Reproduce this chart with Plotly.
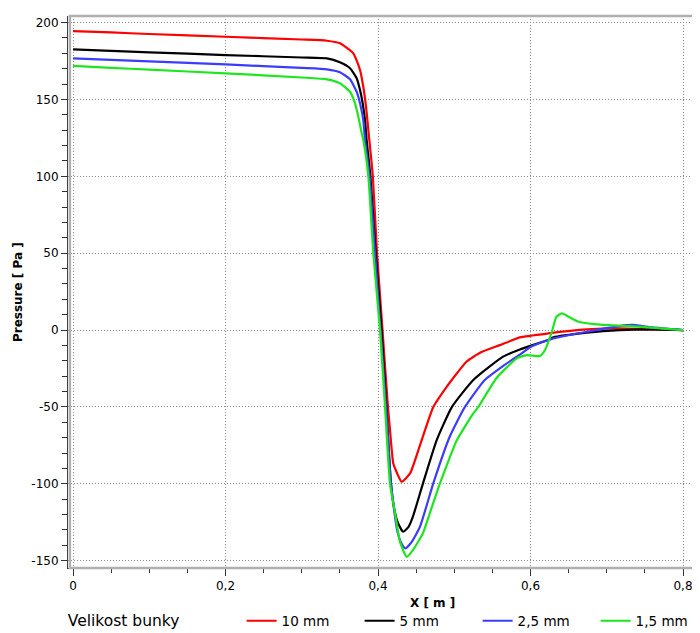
import plotly.graph_objects as go

# ---------------- data ----------------
series_names = ["10 mm", "5 mm", "2,5 mm", "1,5 mm"]
series_colors = ["#ff0000", "#000000", "#3c3cff", "#1ee61e"]

x_10mm = [0, 0.05, 0.1, 0.2, 0.3, 0.333, 0.35, 0.3676, 0.3764, 0.3807, 0.3843, 0.3873, 0.3932,
          0.3987, 0.4059, 0.413, 0.4157, 0.420, 0.424, 0.431, 0.442, 0.455, 0.4725, 0.490, 0.499,
          0.516, 0.535, 0.560, 0.586, 0.623, 0.674, 0.717, 0.76, 0.8]
y_10mm = [194.5, 193.6, 192.6, 190.8, 189.0, 188.2, 186.5, 180.0, 169.2, 158.3, 145.3, 130.1, 100,
          50, 0, -50, -65, -86.7, -92, -98.7, -93.3, -75, -50, -36.9, -31,
          -20.6, -14.5, -9.8, -4.8, -2.2, 0.4, 1.1, 0.4, 0]

x_5mm = [0, 0.05, 0.1, 0.2, 0.3, 0.333, 0.35, 0.3633, 0.372, 0.3764, 0.3799, 0.3829, 0.3851, 0.390,
         0.397, 0.4046, 0.411, 0.417, 0.4223, 0.4266, 0.433, 0.440, 0.446, 0.459, 0.477, 0.497,
         0.525, 0.564, 0.586, 0.623, 0.63, 0.674, 0.717, 0.76, 0.8]
y_5mm = [182.6, 181.6, 180.7, 178.9, 177.3, 176.7, 174.2, 170.3, 163.8, 156.1, 147.5, 136.6, 123.6, 100,
         50, 0, -50, -100, -119, -126, -131.2, -128, -121, -99.7, -71.6, -50,
         -32.5, -17.3, -12.6, -6.5, -4.8, -1.7, 0, 0.4, 0]

x_2_5mm = [0, 0.05, 0.1, 0.2, 0.3, 0.333, 0.35, 0.3633, 0.372, 0.3764, 0.3807, 0.3829, 0.3889, 0.396,
           0.4033, 0.4105, 0.417, 0.425, 0.431, 0.436, 0.444, 0.455, 0.4725, 0.494, 0.514, 0.540,
           0.565, 0.586, 0.600, 0.623, 0.630, 0.674, 0.717, 0.735, 0.760, 0.8]
y_2_5mm = [176.7, 175.8, 174.8, 172.8, 170.5, 169.6, 167.7, 163.1, 155.0, 147.5, 136.6, 123.6, 100, 50,
           0, -50, -100, -130, -139, -142, -138, -128, -99.7, -69.4, -50, -32.5,
           -23, -16, -11, -6.5, -5.4, -1.1, 2.6, 3.3, 1.7, 0]

x_1_5mm = [0, 0.05, 0.1, 0.2, 0.3, 0.333, 0.35, 0.3633, 0.3698, 0.3742, 0.3786, 0.3807, 0.3873, 0.3938,
           0.4026, 0.4092, 0.4157, 0.4223, 0.4289, 0.4376, 0.446, 0.459, 0.470, 0.481, 0.494, 0.503,
           0.515, 0.525, 0.5316, 0.555, 0.582, 0.595, 0.6125, 0.619, 0.628, 0.634, 0.641, 0.650,
           0.663, 0.695, 0.730, 0.770, 0.8]
y_1_5mm = [171.8, 170.6, 169.4, 167.0, 164.3, 163.1, 160.5, 155.0, 147.5, 138.8, 128.0, 123.6, 100, 50,
           0, -50, -100, -119, -138, -147.5, -143, -132, -116, -100, -83, -72,
           -62, -54.2, -50, -31.5, -18.4, -16.3, -16.9, -13, -1.1, 8.7, 10.8, 8.7,
           5.4, 3.3, 2.6, 1.1, 0]

x_tick_vals = [0, 0.2, 0.4, 0.6, 0.8]
x_tick_labels = ["0", "0,2", "0,4", "0,6", "0,8"]
y_tick_vals = [-150, -100, -50, 0, 50, 100, 150, 200]
y_tick_labels = ["-150", "-100", "-50", "0", "50", "100", "150", "200"]

legend_title = "Velikost bunky"
x_title = "X [ m ]"
y_title = "Pressure [ Pa ]"

xs = [x_10mm, x_5mm, x_2_5mm, x_1_5mm]
ys = [y_10mm, y_5mm, y_2_5mm, y_1_5mm]

# ---------------- figure ----------------
fig = go.Figure()
for name, color, xv, yv in zip(series_names, series_colors, xs, ys):
    fig.add_trace(go.Scatter(x=xv, y=yv, mode="lines", name=name,
                             line=dict(color=color, width=2.2, shape="spline", smoothing=0.5)))

tick_font = dict(family="DejaVu Sans", size=12, color="#000000")
grid_dash = "1px,2px"
grid_color = "#8a8a8a"

# the page body has an 8px margin, so the figure is 8px smaller each way
fig.update_layout(
    width=692, height=625,
    margin=dict(l=60, r=0, t=8, b=65, autoexpand=False),
    paper_bgcolor="white", plot_bgcolor="white",
    font=dict(family="DejaVu Sans", size=12, color="#000000"),
    showlegend=True,
    legend=dict(
        orientation="h", x=-0.0035, xanchor="left", y=-0.096, yanchor="middle",
        title=dict(text=legend_title + "\u00a0" * 11,
                   font=dict(size=15.5), side="left"),
        font=dict(size=13.5, family="DejaVu Sans"),
        entrywidth=73, entrywidthmode="pixels",
        bgcolor="rgba(0,0,0,0)",
    ),
    xaxis=dict(
        range=[-0.0066, 0.8223], automargin=False,
        tickmode="array", tickvals=x_tick_vals, ticktext=x_tick_labels,
        ticks="outside", ticklen=7, tickcolor="#333333", tickwidth=1,
        tickfont=tick_font,
        showline=True, linecolor="#404040", linewidth=1,
        showgrid=True, gridcolor=grid_color, griddash=grid_dash, gridwidth=1,
        zeroline=False,
        minor=dict(tickmode="linear", tick0=0, dtick=0.05, ticks="outside", ticklen=4,
                   tickcolor="#333333", showgrid=False),
    ),
    yaxis=dict(
        range=[-154.8, 204.3], automargin=False,
        tickmode="array", tickvals=y_tick_vals, ticktext=y_tick_labels,
        ticks="outside", ticklen=6, tickcolor="#333333", tickwidth=1,
        tickfont=tick_font,
        showline=True, linecolor="#404040", linewidth=1,
        showgrid=True, gridcolor=grid_color, griddash=grid_dash, gridwidth=1,
        zeroline=False,
        minor=dict(tickmode="linear", tick0=0, dtick=10, ticks="outside", ticklen=5,
                   tickcolor="#333333", showgrid=False),
    ),
    shapes=[dict(type="rect", xref="paper", yref="paper", x0=0.003, y0=0.0, x1=1.0, y1=1.0,
                 line=dict(color="#b0b0b0", width=2.5), layer="above")],
    annotations=[
        dict(text="<b>" + x_title + "</b>", xref="paper", yref="paper", x=0.576, y=-0.0634,
             xanchor="center", yanchor="middle", showarrow=False,
             font=dict(family="DejaVu Sans", size=12)),
        dict(text="<b>" + y_title + "</b>", xref="paper", yref="paper", x=-0.079, y=0.5,
             xanchor="center", yanchor="middle", showarrow=False, textangle=-90,
             font=dict(family="DejaVu Sans", size=12)),
    ],
)

fig.write_html("out.html")
